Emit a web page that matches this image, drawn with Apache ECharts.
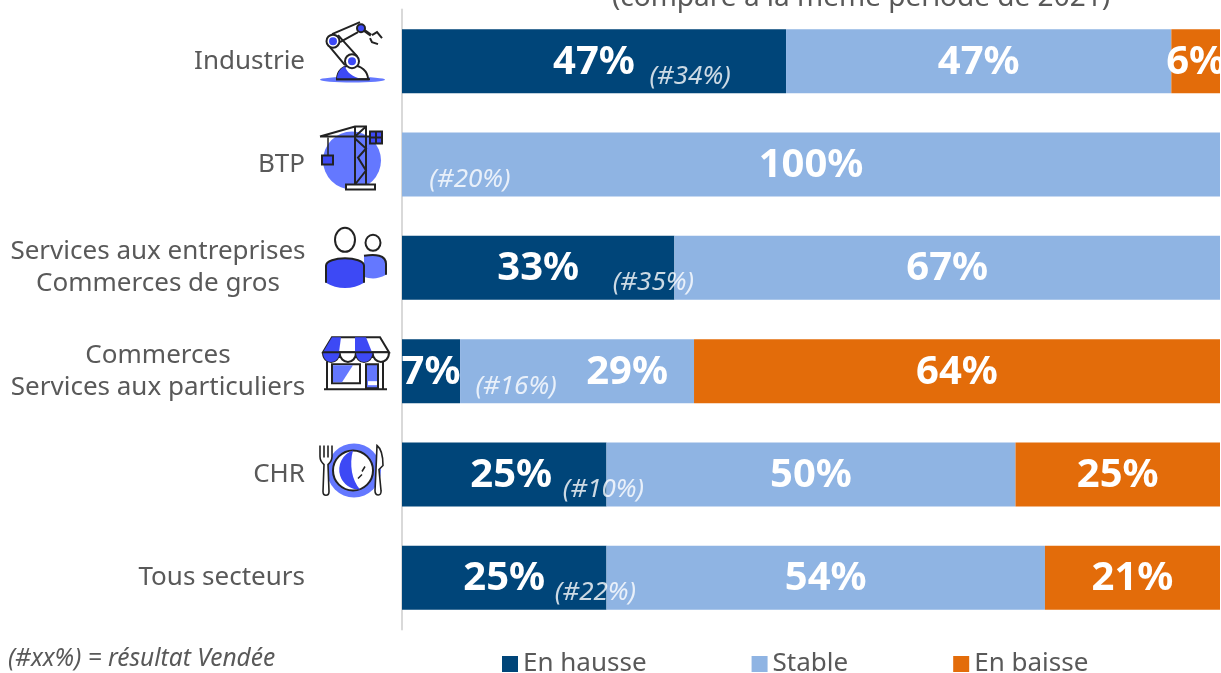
<!DOCTYPE html>
<html>
<head>
<meta charset="utf-8">
<title>Sectors</title>
<style>
  html, body { margin: 0; padding: 0; background: #fff; }
  #chart { width: 1221px; height: 673px; }
</style>
<script src="https://cdn.jsdelivr.net/npm/echarts@6/dist/echarts.min.js"></script>
</head>
<body>
<div id="chart"></div>
<script>
  const categories = ['Industrie', 'BTP', 'Services aux entreprises\nCommerces de gros', 'Commerces\nServices aux particuliers', 'CHR', 'Tous secteurs'];
  // the labels show them rounded
  const hausse = [46.95, 0, 33.3, 7.1, 25, 25];
  const stable = [47.1, 100, 66.7, 28.6, 50, 53.6];
  const baisse = [5.95, 0, 0, 64.3, 25, 21.4];
  const vendee = [34, 20, 35, 16, 10, 22];
  const seriesNames = ['En hausse', 'Stable', 'En baisse'];
  const titleText = '(comparé à la même période de 2021)';
  const noteText = '(#xx%) = résultat Vendée';

  const FONT = '"Noto Sans", sans-serif';
  const TEXT = '#595959';
  const DARK = '#222222';
  const BLUE = '#3d49f5';
  const SOFT = '#6478ff';

  // where the (#xx%) note sits, relative to the end of the "En hausse" segment
  const noteOffset = [-96, 68, -21, 56, -3, -11];

  // icon helpers, coordinates are local to an 80x80 box
  function p(d, fill, stroke, lineWidth) {
    return {d: d, fill: fill || 'none', stroke: stroke || 'none', lw: lineWidth || 2};
  }
  function oval(cx, cy, rx, ry) {
    return 'M' + (cx - rx) + ' ' + cy + 'A' + rx + ' ' + ry + ' 0 1 0 ' + (cx + rx) + ' ' + cy +
      'A' + rx + ' ' + ry + ' 0 1 0 ' + (cx - rx) + ' ' + cy + 'Z';
  }

  const icons = [
    // robot arm
    [
      p(oval(37.5, 58.5, 32.5, 2.8), SOFT),
      p('M22 58C22 50 28 44 37 44C46 44 53 50 53 58Z', '#ffffff', DARK),
      p('M22 58C22 52 25 47 30 45C32 52 38 55 46 58Z', BLUE),
      p('M21 58L55 58', null, DARK, 2),
      p('M23 14L42 35M15 26L30 44', null, DARK),
      p('M17 13L45 1M25 21L43 11', null, DARK),
      p(oval(37, 40, 7, 7), '#ffffff', DARK),
      p(oval(37, 40, 4, 4), BLUE),
      p(oval(18, 20, 6.5, 6.5), '#ffffff', DARK),
      p(oval(18, 20, 4, 4), BLUE),
      p(oval(46, 7, 4, 4), BLUE, DARK),
      p('M49 9L56 14', null, DARK, 3),
      p('M57 14L62 11L67 17M55 17L57 21L63 23', null, DARK)
    ],
    // crane
    [
      p(oval(37, 36, 29, 29), SOFT),
      p('M5 12L68 12M5 12L40 2L51 2L51 12', null, DARK),
      p('M40 2L40 60M51 2L51 60M40 12L51 2M40 14L51 24L43 33L51 46L40 60', null, DARK),
      p('M31 60L60 60L60 65L31 65Z', '#ffffff', DARK),
      p('M13 13L13 31', null, DARK, 1.5),
      p('M7 31L18 31L18 40L7 40Z', BLUE, DARK),
      p('M55 7L67 7L67 19L55 19ZM61 7L61 19M55 13L67 13', BLUE, DARK)
    ],
    // people
    [
      p('M49 28C60 26 71 27 71 36L71 47C62 52 55 51 49 49Z', SOFT),
      p('M49 28C60 26 71 27 71 36L71 47', null, DARK),
      p(oval(58, 15, 7.5, 8), '#ffffff', DARK),
      p('M11 55L11 38C11 28 49 28 49 38L49 55C38 62 22 62 11 55Z', BLUE),
      p('M11 55L11 38C11 28 49 28 49 38L49 55', null, DARK),
      p(oval(30, 12, 10, 12), '#ffffff', DARK)
    ],
    // shop
    [
      p('M17 6L65 6L74 21L8 21Z', '#ffffff', DARK),
      p('M17 6L26 6L24 21L8 21Z', BLUE),
      p('M40 6L51 6L57 21L40 21Z', BLUE),
      p('M8 21C8 34 24 34 24.5 21C25 34 41 34 41 21C41 34 57 34 57.5 21C58 34 74 34 74 21', '#ffffff', DARK),
      p('M8 21C8 34 24 34 24.5 21Z', BLUE),
      p('M41 21C41 34 57 34 57.5 21Z', BLUE),
      p('M8 21L74 21', null, DARK),
      p('M12 30L12 58M68 30L68 58M9 58L72 58', null, DARK),
      p('M17 33L45 33L45 52L17 52Z', '#ffffff', DARK),
      p('M18 34L38 34L27 51L18 51Z', SOFT),
      p('M51 33L63 33L63 57L51 57Z', SOFT, DARK),
      p('M53 50L62 50L62 54L53 54Z', '#ffffff')
    ],
    // plate and cutlery
    [
      p(oval(39, 36, 27, 27), SOFT),
      p(oval(38, 36, 20, 20), '#ffffff', DARK),
      p('M38 16A20 20 0 0 0 45 55C37 46 34 30 38 16Z', BLUE),
      p('M47 40L43 44M50 32L47 37', null, DARK, 1.5),
      p('M5 11L5 22C5 27 8 29 9 30L8 57C8 62 14 62 14 57L13 30C14 29 17 27 17 22L17 11M9 11L9 23M13 11L13 23', '#ffffff', DARK, 1.6),
      p('M62 11C66 14 68 22 68 31L64 35L66 56C67 62 60 62 60 56L61 35Z', '#ffffff', DARK, 1.6)
    ]
  ];
  const iconOfRow = [0, 1, 2, 3, 4, null];

  function barSeries(name, values, color, shift) {
    return {
      name: name,
      type: 'bar',
      stack: 'total',
      barWidth: 64,
      animation: false,
      itemStyle: {color: color},
      label: {
        show: true,
        position: 'inside',
        offset: [0, 1],
        color: '#ffffff',
        fontFamily: FONT,
        fontSize: 40,
        fontWeight: 'bold',
        formatter: function (params) {
          return params.value ? Math.round(params.value) + '%' : '';
        }
      },
      data: values.map(function (v, i) {
        // some labels are not centered in their segment
        return shift && shift[i] ? {value: v, label: {offset: [shift[i], 1]}} : v;
      })
    };
  }

  const chart = echarts.init(document.getElementById('chart'), null, {renderer: 'canvas'});
  chart.setOption({
    backgroundColor: '#ffffff',
    animation: false,
    textStyle: {fontFamily: FONT},
    title: [
      {
        text: titleText,
        left: 856,
        textAlign: 'center',
        top: -21,
        textStyle: {color: TEXT, fontFamily: FONT, fontSize: 28, fontWeight: 'normal'}
      },
      {
        text: noteText,
        left: 3,
        top: 642,
        textStyle: {color: TEXT, fontFamily: FONT, fontSize: 24.5, fontStyle: 'italic', fontWeight: 'normal'}
      }
    ],
    legend: {
      data: seriesNames,
      left: 502,
      top: 651,
      padding: 0,
      itemWidth: 16,
      itemHeight: 16,
      itemGap: 105,
      icon: 'rect',
      textStyle: {color: TEXT, fontFamily: FONT, fontSize: 26}
    },
    grid: {left: 402, right: 1, top: 9.5, bottom: 43.5},
    xAxis: {type: 'value', min: 0, max: 100, show: false},
    yAxis: {
      type: 'category',
      inverse: true,
      data: categories,
      axisTick: {show: false},
      axisLine: {show: true, lineStyle: {color: '#d9d9d9', width: 2}},
      axisLabel: {
        margin: 97,
        formatter: function (value) {
          const lines = value.split('\n');
          const tag = lines.length > 1 ? 'c' : 'r';
          return lines.map(function (l) { return '{' + tag + '|' + l + '}'; }).join('\n');
        },
        rich: {
          c: {width: 294, align: 'center', color: TEXT, fontFamily: FONT, fontSize: 26, lineHeight: 32},
          r: {width: 294, align: 'right', color: TEXT, fontFamily: FONT, fontSize: 26, lineHeight: 32}
        }
      }
    },
    series: [
      barSeries(seriesNames[0], hausse, '#004579', {4: 7}),
      barSeries(seriesNames[1], stable, '#8fb4e3', {3: 50}),
      barSeries(seriesNames[2], baisse, '#e36c0a'),
      {
        name: 'Vendée',
        type: 'scatter',
        symbolSize: 0,
        silent: true,
        z: 5,
        data: vendee.map(function (v, i) {
          return {
            value: [hausse[i], i],
            label: {
              show: true,
              position: 'inside',
              offset: [noteOffset[i], 15],
              formatter: '(#' + v + '%)',
              color: '#ffffff',
              fontFamily: FONT,
              fontSize: 26,
              fontStyle: 'italic'
            }
          };
        })
      },
      {
        name: 'Icons',
        type: 'custom',
        silent: true,
        clip: false,
        z: 6,
        data: categories.map(function (c, i) { return i; }),
        renderItem: function (params, api) {
          const row = api.value(0);
          const idx = iconOfRow[row];
          if (idx === null) return null;
          const pos = api.coord([0, row]);
          return {
            type: 'group',
            x: pos[0] - 87,
            y: pos[1] - 40,
            children: icons[idx].map(function (s) {
              return {
                type: 'path',
                shape: {pathData: 'M0 0M80 80' + s.d, x: 0, y: 0, width: 80, height: 80, layout: 'cover'},
                style: {fill: s.fill, stroke: s.stroke, lineWidth: s.lw}
              };
            })
          };
        }
      }
    ]
  });
</script>
</body>
</html>
